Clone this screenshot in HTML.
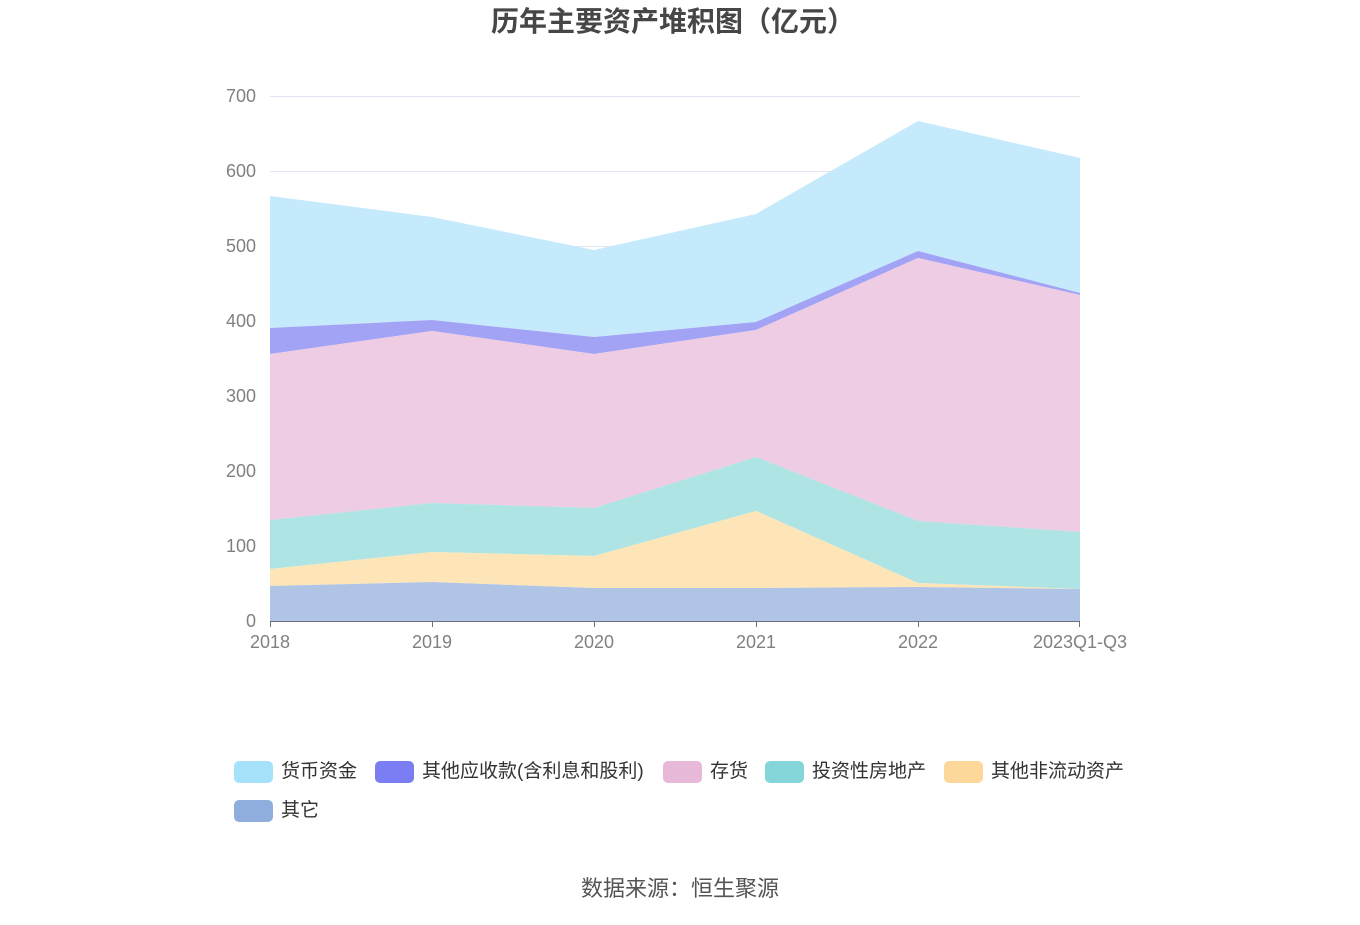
<!DOCTYPE html>
<html><head><meta charset="utf-8"><style>
body{margin:0;background:#fff;width:1360px;height:920px;overflow:hidden;font-family:"Liberation Sans","Noto Sans CJK SC",sans-serif;}
</style></head><body>
<svg width="1360" height="920" xmlns="http://www.w3.org/2000/svg" font-family="Liberation Sans, Noto Sans CJK SC, sans-serif">
<text x="673" y="31" text-anchor="middle" font-size="28" font-weight="bold" fill="#464646">历年主要资产堆积图（亿元）</text>
<g stroke="#e0e6f1" stroke-width="1">
<line x1="270" x2="1080" y1="96.5" y2="96.5"/><line x1="270" x2="1080" y1="171.5" y2="171.5"/>
<line x1="270" x2="1080" y1="246.5" y2="246.5"/><line x1="270" x2="1080" y1="321.5" y2="321.5"/>
<line x1="270" x2="1080" y1="396.5" y2="396.5"/><line x1="270" x2="1080" y1="471.5" y2="471.5"/>
<line x1="270" x2="1080" y1="546.5" y2="546.5"/>
</g>
<g font-size="18" fill="#808080" text-anchor="end">
<text x="256" y="102">700</text><text x="256" y="177">600</text><text x="256" y="252">500</text>
<text x="256" y="327">400</text><text x="256" y="402">300</text><text x="256" y="477">200</text>
<text x="256" y="552">100</text><text x="256" y="627">0</text>
</g>
<polygon fill="#c4eafc" points="270,196 432,217 594,250 756,214 918,121 1080,158 1080,293 918,251 756,322 594,337 432,320 270,328"/>
<polygon fill="#a3a3f5" points="270,328 432,320 594,337 756,322 918,251 1080,293 1080,295 918,258 756,330 594,354 432,331 270,354"/>
<polygon fill="#eecce3" points="270,354 432,331 594,354 756,330 918,258 1080,295 1080,532 918,521 756,457 594,508 432,503 270,520"/>
<polygon fill="#aee4e4" points="270,520 432,503 594,508 756,457 918,521 1080,532 1080,589 918,583 756,511 594,556 432,552 270,569"/>
<polygon fill="#fde5b8" points="270,569 432,552 594,556 756,511 918,583 1080,589 1080,589 918,587 756,588 594,588 432,582 270,586"/>
<polygon fill="#b0c4e6" points="270,586 432,582 594,588 756,588 918,587 1080,589 1080,621 270,621"/>
<line x1="270" x2="1080" y1="621.5" y2="621.5" stroke="#6e7079" stroke-width="1"/>
<g stroke="#6e7079"><line x1="270.5" x2="270.5" y1="621" y2="627"/><line x1="432.5" x2="432.5" y1="621" y2="627"/><line x1="594.5" x2="594.5" y1="621" y2="627"/><line x1="756.5" x2="756.5" y1="621" y2="627"/><line x1="918.5" x2="918.5" y1="621" y2="627"/><line x1="1079.5" x2="1079.5" y1="621" y2="627"/></g>
<g font-size="18" fill="#808080" text-anchor="middle">
<text x="270" y="648">2018</text><text x="432" y="648">2019</text><text x="594" y="648">2020</text>
<text x="756" y="648">2021</text><text x="918" y="648">2022</text><text x="1080" y="648">2023Q1-Q3</text>
</g>
<g font-size="19" fill="#333">
<rect x="234" y="761" width="39" height="22" rx="5" fill="#a5e2f9"/><text x="281" y="777">货币资金</text>
<rect x="375" y="761" width="39" height="22" rx="5" fill="#7b7ef3"/><text x="422" y="777">其他应收款(含利息和股利)</text>
<rect x="663" y="761" width="39" height="22" rx="5" fill="#e8b8d8"/><text x="710" y="777">存货</text>
<rect x="765" y="761" width="39" height="22" rx="5" fill="#84d6d8"/><text x="812" y="777">投资性房地产</text>
<rect x="944" y="761" width="39" height="22" rx="5" fill="#fdd89a"/><text x="991" y="777">其他非流动资产</text>
<rect x="234" y="800" width="39" height="22" rx="5" fill="#8faedd"/><text x="281" y="816">其它</text>
</g>
<text x="680" y="896" text-anchor="middle" font-size="22" fill="#555">数据来源：恒生聚源</text>
</svg>
</body></html>
